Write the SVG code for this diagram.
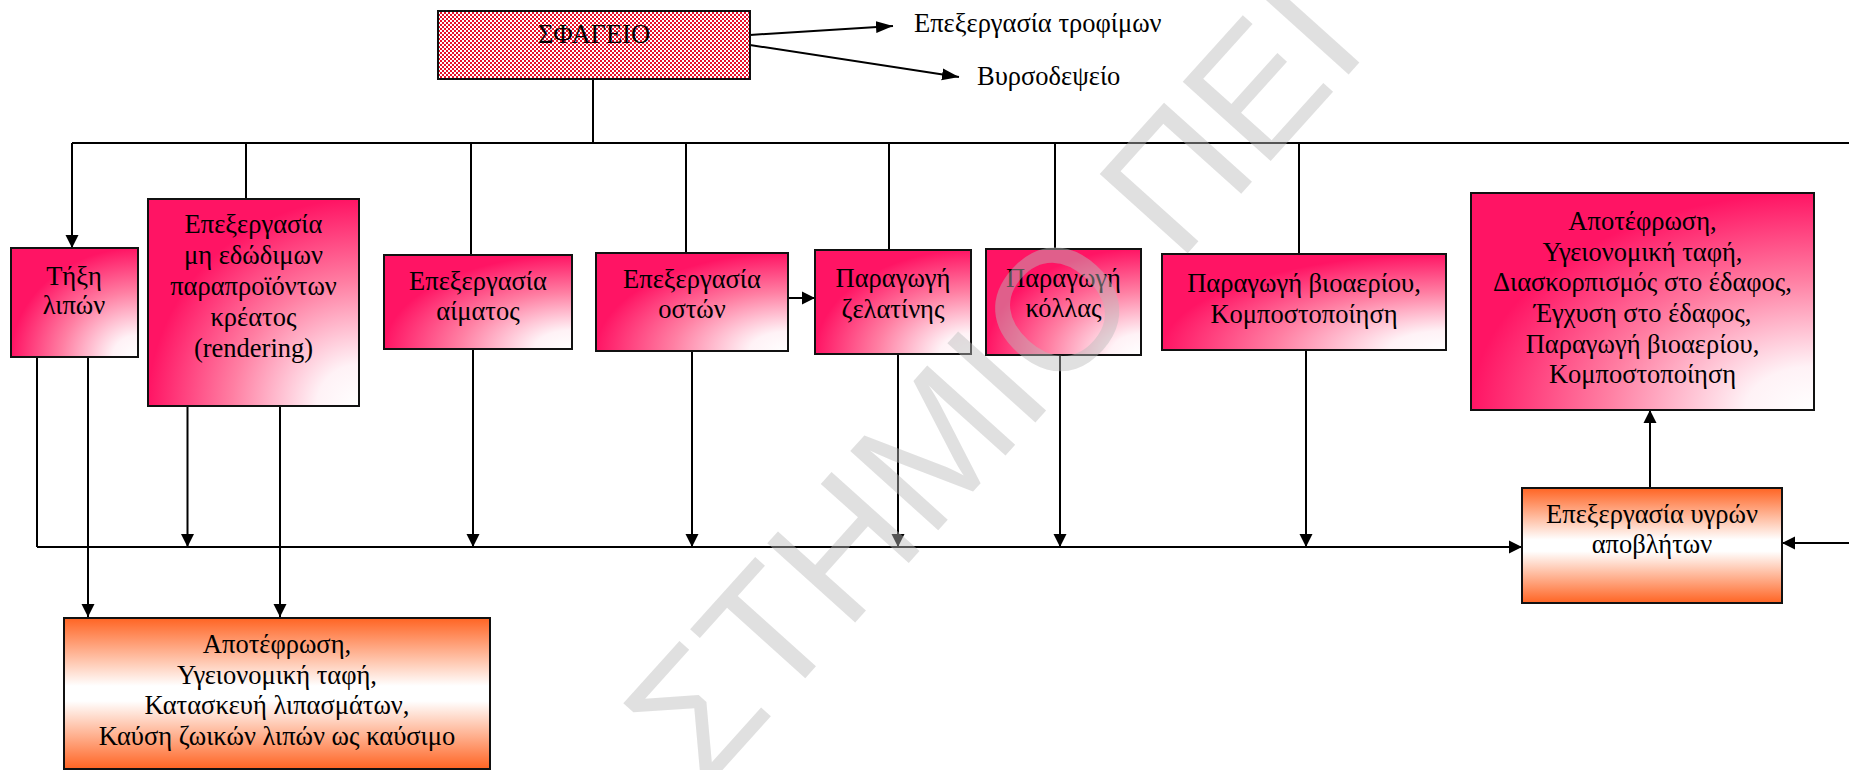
<svg xmlns="http://www.w3.org/2000/svg" width="1849" height="770" viewBox="0 0 1849 770">
<style>
.t{font-family:"Liberation Serif","Times New Roman",serif;font-size:26.5px;fill:#000;text-anchor:middle}
.ts{font-family:"Liberation Serif","Times New Roman",serif;font-size:26.5px;fill:#000}
.b{stroke:#111;stroke-width:2}
.c{stroke:#000;stroke-width:2;fill:none}
.wm{font-family:"Liberation Sans",Arial,sans-serif;font-size:172px;fill:#bbbbbb;fill-opacity:0.45}
</style>
<defs>
<radialGradient id="pk" cx="1" cy="1" r="1" fx="1" fy="1">
<stop offset="0" stop-color="#ffffff"/>
<stop offset="0.2" stop-color="#fff2f6"/>
<stop offset="0.6" stop-color="#ff7fa3"/>
<stop offset="1" stop-color="#ff1464"/>
</radialGradient>
<linearGradient id="or" x1="0" y1="0" x2="0" y2="1">
<stop offset="0" stop-color="#ff6423"/>
<stop offset="0.45" stop-color="#ffffff"/>
<stop offset="0.55" stop-color="#ffffff"/>
<stop offset="1" stop-color="#ff6423"/>
</linearGradient>
<pattern id="dots" width="4" height="4" patternUnits="userSpaceOnUse">
<rect width="4" height="4" fill="#ffffff"/>
<rect x="0" y="0" width="2" height="2" fill="#e8102a"/>
<rect x="2" y="2" width="2" height="2" fill="#e8102a"/>
</pattern>
<marker id="ah" markerWidth="14" markerHeight="14" refX="13" refY="7" orient="auto" markerUnits="userSpaceOnUse">
<path d="M0,0.5 L13,7 L0,13.5 z" fill="#000"/>
</marker>
<marker id="ah2" markerWidth="18" markerHeight="14" refX="17" refY="7" orient="auto" markerUnits="userSpaceOnUse">
<path d="M0,1 L17,7 L0,13 z" fill="#000"/>
</marker>
</defs>
<rect width="1849" height="770" fill="#ffffff"/>

<g id="connectors">
<path class="c" d="M750,35 L893,26" marker-end="url(#ah2)"/>
<path class="c" d="M750,45 L959,77" marker-end="url(#ah2)"/>
<path class="c" d="M593,79 V143"/>
<path class="c" d="M72,143 H1849"/>
<path class="c" d="M72,143 V248" marker-end="url(#ah)"/>
<path class="c" d="M246,143 V199"/>
<path class="c" d="M471,143 V255"/>
<path class="c" d="M686,143 V253"/>
<path class="c" d="M889,143 V250"/>
<path class="c" d="M1055,143 V249"/>
<path class="c" d="M1299,143 V254"/>
<path class="c" d="M788,298 H815" marker-end="url(#ah)"/>
<path class="c" d="M37,357 V547"/>
<path class="c" d="M88,357 V617" marker-end="url(#ah)"/>
<path class="c" d="M187.5,406 V547" marker-end="url(#ah)"/>
<path class="c" d="M280,406 V617" marker-end="url(#ah)"/>
<path class="c" d="M473,349 V547" marker-end="url(#ah)"/>
<path class="c" d="M692,351 V547" marker-end="url(#ah)"/>
<path class="c" d="M898,354 V547" marker-end="url(#ah)"/>
<path class="c" d="M1060,355 V547" marker-end="url(#ah)"/>
<path class="c" d="M1306,350 V547" marker-end="url(#ah)"/>
<path class="c" d="M37,547 H1522" marker-end="url(#ah)"/>
<path class="c" d="M1849,543 H1782" stroke-width="3" marker-end="url(#ah)"/>
<path class="c" d="M1650,488 V410" marker-end="url(#ah)"/>
</g>

<g id="sfageio">
<rect class="b" x="438" y="11" width="312" height="68" fill="url(#dots)"/>
<text class="t" x="594" y="43">ΣΦΑΓΕΙΟ</text>
</g>
<g id="out-food"><text class="ts" x="914" y="32">Επεξεργασία τροφίμων</text></g>
<g id="out-tannery"><text class="ts" x="977" y="85">Βυρσοδεψείο</text></g>

<g id="tixi">
<rect class="b" x="11" y="248" width="127" height="109" fill="url(#pk)"/>
<text class="t" x="74" y="285">Τήξη</text>
<text class="t" x="74" y="314">λιπών</text>
</g>
<g id="rendering">
<rect class="b" x="148" y="199" width="211" height="207" fill="url(#pk)"/>
<text class="t" x="253.5" y="233">Επεξεργασία</text>
<text class="t" x="253.5" y="264">μη εδώδιμων</text>
<text class="t" x="253.5" y="295">παραπροϊόντων</text>
<text class="t" x="253.5" y="326">κρέατος</text>
<text class="t" x="253.5" y="357">(rendering)</text>
</g>
<g id="aimatos">
<rect class="b" x="384" y="255" width="188" height="94" fill="url(#pk)"/>
<text class="t" x="478" y="290">Επεξεργασία</text>
<text class="t" x="478" y="320">αίματος</text>
</g>
<g id="oston">
<rect class="b" x="596" y="253" width="192" height="98" fill="url(#pk)"/>
<text class="t" x="692" y="288">Επεξεργασία</text>
<text class="t" x="692" y="318">οστών</text>
</g>
<g id="zelatinis">
<rect class="b" x="815" y="250" width="156" height="104" fill="url(#pk)"/>
<text class="t" x="893" y="287">Παραγωγή</text>
<text class="t" x="893" y="318">ζελατίνης</text>
</g>
<g id="kollas">
<rect class="b" x="986" y="249" width="155" height="106" fill="url(#pk)"/>
<text class="t" x="1063.5" y="287">Παραγωγή</text>
<text class="t" x="1063.5" y="317">κόλλας</text>
</g>
<g id="bioaeriou">
<rect class="b" x="1162" y="254" width="284" height="96" fill="url(#pk)"/>
<text class="t" x="1304" y="292">Παραγωγή βιοαερίου,</text>
<text class="t" x="1304" y="323">Κομποστοποίηση</text>
</g>
<g id="right-disposal">
<rect class="b" x="1471" y="193" width="343" height="217" fill="url(#pk)"/>
<text class="t" x="1642.5" y="230">Αποτέφρωση,</text>
<text class="t" x="1642.5" y="261">Υγειονομική ταφή,</text>
<text class="t" x="1642.5" y="291">Διασκορπισμός στο έδαφος,</text>
<text class="t" x="1642.5" y="322">Έγχυση στο έδαφος,</text>
<text class="t" x="1642.5" y="353">Παραγωγή βιοαερίου,</text>
<text class="t" x="1642.5" y="383">Κομποστοποίηση</text>
</g>
<g id="ygra">
<rect class="b" x="1522" y="488" width="260" height="115" fill="url(#or)"/>
<text class="t" x="1652" y="523">Επεξεργασία υγρών</text>
<text class="t" x="1652" y="553">αποβλήτων</text>
</g>
<g id="bottom-disposal">
<rect class="b" x="64" y="618" width="426" height="151" fill="url(#or)"/>
<text class="t" x="277" y="653">Αποτέφρωση,</text>
<text class="t" x="277" y="683.5">Υγειονομική ταφή,</text>
<text class="t" x="277" y="714">Κατασκευή λιπασμάτων,</text>
<text class="t" x="277" y="744.5">Καύση ζωικών λιπών ως καύσιμο</text>
</g>

<g id="watermark" transform="translate(1055,308) rotate(-48)">
<text class="wm" x="-593" y="62">ΣΤΗΜΙΟ ΠΕΙ</text>
</g>
</svg>
